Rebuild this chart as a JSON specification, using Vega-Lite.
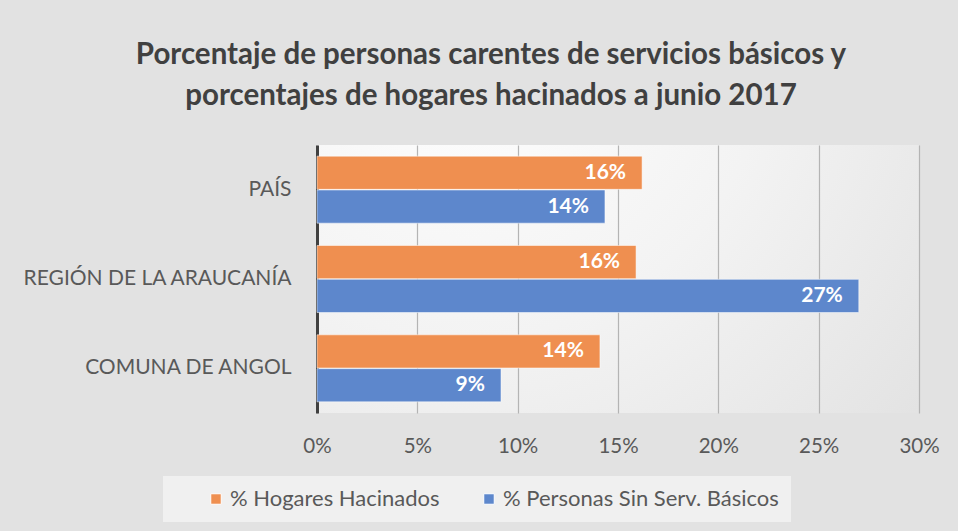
{
  "$schema": "https://vega.github.io/schema/vega-lite/v6.json",
  "width": 602,
  "height": 268,
  "autosize": {"type": "none"},
  "padding": {"left": 317, "top": 145, "right": 39, "bottom": 118},
  "background": "#e2e2e2",
  "config": {
    "view": {
      "stroke": null,
      "fill": {
        "gradient": "radial",
        "x1": 0.25, "y1": 0.1, "r1": 0,
        "x2": 0.25, "y2": 0.1, "r2": 1.0,
        "stops": [
          {"offset": 0, "color": "#ffffff"},
          {"offset": 0.5, "color": "#f3f3f3"},
          {"offset": 1, "color": "#e2e2e2"}
        ]
      }
    },
    "font": "Lato"
  },
  "title": {
    "text": ["Porcentaje de personas carentes de servicios básicos y", "porcentajes de hogares hacinados a junio 2017"],
    "font": "Lato",
    "fontSize": 29.5,
    "fontWeight": "bold",
    "color": "#404040",
    "anchor": "middle",
    "dx": -127,
    "offset": 34,
    "lineHeight": 41
  },
  "data": {
    "values": [
      {"region": "PAÍS", "serie": "% Hogares Hacinados", "valor": 0.162},
      {"region": "PAÍS", "serie": "% Personas Sin Serv. Básicos", "valor": 0.1435},
      {"region": "REGIÓN DE LA ARAUCANÍA", "serie": "% Hogares Hacinados", "valor": 0.159},
      {"region": "REGIÓN DE LA ARAUCANÍA", "serie": "% Personas Sin Serv. Básicos", "valor": 0.27},
      {"region": "COMUNA DE ANGOL", "serie": "% Hogares Hacinados", "valor": 0.141},
      {"region": "COMUNA DE ANGOL", "serie": "% Personas Sin Serv. Básicos", "valor": 0.0917}
    ]
  },
  "encoding": {
    "y": {
      "field": "region",
      "type": "nominal",
      "sort": ["PAÍS", "REGIÓN DE LA ARAUCANÍA", "COMUNA DE ANGOL"],
      "scale": {"paddingInner": 0.25, "paddingOuter": 0.125},
      "axis": {
        "title": null,
        "domain": true,
        "domainColor": "#404040",
        "domainWidth": 3,
        "ticks": false,
        "labelFontSize": 21,
        "labelColor": "#595959",
        "labelPadding": 26,
        "labelLimit": 400,
        "labelFont": "Lato"
      }
    },
    "yOffset": {
      "field": "serie",
      "type": "nominal",
      "sort": ["% Hogares Hacinados", "% Personas Sin Serv. Básicos"],
      "scale": {"paddingInner": 0.02}
    },
    "x": {
      "field": "valor",
      "type": "quantitative",
      "scale": {"domain": [0, 0.3], "nice": false},
      "axis": {
        "title": null,
        "format": ".0%",
        "values": [0, 0.05, 0.1, 0.15, 0.2, 0.25, 0.3],
        "domain": false,
        "ticks": false,
        "grid": true,
        "gridColor": "#b4b4b4",
        "gridWidth": 1.2,
        "labelFlush": false,
        "labelFontSize": 20.5,
        "labelColor": "#595959",
        "labelPadding": 23,
        "labelFont": "Lato"
      }
    }
  },
  "layer": [
    {
      "mark": {"type": "bar", "stroke": "#ffffff", "strokeOpacity": 0.5, "strokeWidth": 1},
      "encoding": {
        "color": {
          "field": "serie",
          "type": "nominal",
          "scale": {
            "domain": ["% Hogares Hacinados", "% Personas Sin Serv. Básicos"],
            "range": ["#EF8F50", "#5D87CC"]
          },
          "legend": {
            "title": null,
            "orient": "none",
            "legendX": -154,
            "legendY": 331,
            "direction": "horizontal",
            "fillColor": "#f0f0f0",
            "padding": 12,
            "symbolType": "square",
            "symbolSize": 110,
            "symbolOffset": 30,
            "symbolStrokeColor": "#ffffff",
            "symbolStrokeWidth": 1,
            "labelFontSize": 22,
            "labelColor": "#595959",
            "labelFont": "Lato",
            "labelOffset": 3,
            "columnPadding": 8,
            "labelLimit": 400
          }
        }
      }
    },
    {
      "mark": {"type": "text", "align": "right", "dx": -16, "fontSize": 21, "fontWeight": "bold", "color": "#ffffff", "font": "Lato"},
      "encoding": {
        "text": {"field": "valor", "type": "quantitative", "format": ".0%"}
      }
    }
  ]
}
